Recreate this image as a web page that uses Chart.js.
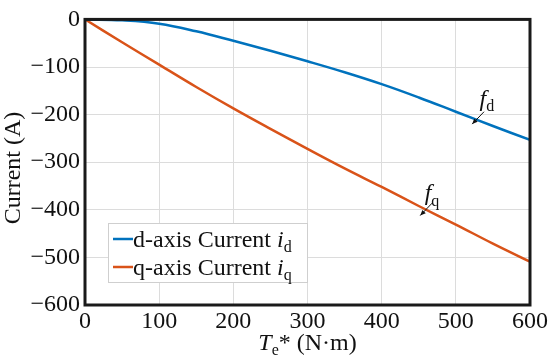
<!DOCTYPE html>
<html>
<head>
<meta charset="utf-8">
<script src="https://cdn.jsdelivr.net/npm/chart.js@4.4.1/dist/chart.umd.min.js"></script>
<style>
  html, body { margin: 0; padding: 0; background: #fff; }
  #wrap { width: 550px; height: 361px; }
</style>
</head>
<body>
<div id="wrap"><canvas id="current-chart" width="550" height="361"></canvas></div>
<script>
// torque reference values (N·m)
const torque = [0, 50, 100, 150, 200, 250, 300, 350, 400, 450, 500, 550, 600]
// currents (A)
const idCurrent = [0, -2, -9, -25, -45, -66, -88, -111, -136, -164, -194, -224, -253]
const iqCurrent = [0, -48, -95, -142, -187, -230, -272, -313, -352, -392, -431, -471, -509]

const xTicks = [0, 100, 200, 300, 400, 500, 600]
const yTicks = [-600, -500, -400, -300, -200, -100, 0]

const seriesNames = [
    { text: "d-axis Current ", sym: "i", sub: "d", color: "#0072BD" },
    { text: "q-axis Current ", sym: "i", sub: "q", color: "#D95319" }
]

// label positions for the f_d / f_q notes, in data units
const notes = [
    { sub: "d", at: [532, -182], arrow: [[538, -194], [522, -220]] },
    { sub: "q", at: [458, -380], arrow: [[468, -386], [452, -412]] }
]

const serif = '"Liberation Serif", "Times New Roman", serif'
const fontSize = 24

function toPoints(xs, ys) {
    return xs.map((x, i) => ({ x: x, y: ys[i] }))
}

// draws plain text + italic symbol + small subscript, returns end x
function drawSubText(ctx, x, y, plain, sym, sub, size) {
    ctx.font = `${size}px ${serif}`
    ctx.fillText(plain, x, y)
    x += ctx.measureText(plain).width
    ctx.font = `italic ${size}px ${serif}`
    ctx.fillText(sym, x, y)
    x += ctx.measureText(sym).width
    ctx.font = `${Math.round(size * 0.65)}px ${serif}`
    ctx.fillText(sub, x, y + size * 0.22)
    return x + ctx.measureText(sub).width
}

const decorations = {
    id: "decorations",
    afterDraw(chart) {
        const ctx = chart.ctx
        const area = chart.chartArea
        const xs = chart.scales.x
        const ys = chart.scales.y
        ctx.save()

        // frame
        ctx.strokeStyle = "#1a1a1a"
        ctx.lineWidth = 3
        ctx.strokeRect(area.left, area.top, area.right - area.left, area.bottom - area.top)

        // legend
        const lx = area.left + 23, ly = area.bottom - 82
        ctx.fillStyle = "#fff"
        ctx.fillRect(lx, ly, 199, 59)
        ctx.strokeStyle = "#cfcfcf"
        ctx.lineWidth = 1
        ctx.strokeRect(lx + 0.5, ly + 0.5, 199, 59)
        ctx.textBaseline = "alphabetic"
        ctx.textAlign = "left"
        seriesNames.forEach((s, i) => {
            const rowY = ly + 16 + i * 28
            ctx.strokeStyle = s.color
            ctx.lineWidth = 2.5
            ctx.beginPath()
            ctx.moveTo(lx + 5, rowY)
            ctx.lineTo(lx + 25, rowY)
            ctx.stroke()
            ctx.fillStyle = "#111"
            drawSubText(ctx, lx + 25, rowY + 8, s.text, s.sym, s.sub, fontSize)
        })

        // f_d / f_q notes
        notes.forEach(n => {
            const px = xs.getPixelForValue(n.at[0])
            const py = ys.getPixelForValue(n.at[1])
            ctx.fillStyle = "#111"
            drawSubText(ctx, px, py, "", "f", n.sub, fontSize)
            const a0x = xs.getPixelForValue(n.arrow[0][0]), a0y = ys.getPixelForValue(n.arrow[0][1])
            const a1x = xs.getPixelForValue(n.arrow[1][0]), a1y = ys.getPixelForValue(n.arrow[1][1])
            ctx.strokeStyle = "#111"
            ctx.lineWidth = 1
            ctx.beginPath()
            ctx.moveTo(a0x, a0y)
            ctx.lineTo(a1x, a1y)
            ctx.stroke()
            const ang = Math.atan2(a1y - a0y, a1x - a0x)
            ctx.beginPath()
            ctx.moveTo(a1x, a1y)
            ctx.lineTo(a1x - 6 * Math.cos(ang - 0.4), a1y - 6 * Math.sin(ang - 0.4))
            ctx.lineTo(a1x - 6 * Math.cos(ang + 0.4), a1y - 6 * Math.sin(ang + 0.4))
            ctx.closePath()
            ctx.fill()
        })

        // x axis title: T_e* (N·m)
        const subSize = Math.round(fontSize * 0.65)
        ctx.font = `italic ${fontSize}px ${serif}`
        const tW = ctx.measureText("T").width
        ctx.font = `${subSize}px ${serif}`
        const eW = ctx.measureText("e").width
        ctx.font = `${fontSize}px ${serif}`
        const restW = ctx.measureText("* (N\u00b7m)").width
        let tx = (area.left + area.right) / 2 - (tW + eW + restW) / 2
        const ty = 350
        ctx.font = `italic ${fontSize}px ${serif}`
        ctx.fillText("T", tx, ty)
        tx += tW
        ctx.font = `${subSize}px ${serif}`
        ctx.fillText("e", tx, ty + 5)
        tx += eW
        ctx.font = `${fontSize}px ${serif}`
        ctx.fillText("* (N\u00b7m)", tx, ty)

        // y axis title
        ctx.translate(20, 168)
        ctx.rotate(-Math.PI / 2)
        ctx.textAlign = "center"
        ctx.fillText("Current (A)", 0, 0)

        ctx.restore()
    }
}

const canvas = document.getElementById("current-chart")
new Chart(canvas.getContext("2d"), {
    type: "line",
    data: {
        datasets: [{
            label: "d-axis Current id",
            data: toPoints(torque, idCurrent),
            borderColor: seriesNames[0].color,
            borderWidth: 2.5,
            pointRadius: 0,
            tension: 0.4,
            fill: false
        }, {
            label: "q-axis Current iq",
            data: toPoints(torque, iqCurrent),
            borderColor: seriesNames[1].color,
            borderWidth: 2.5,
            pointRadius: 0,
            tension: 0.4,
            fill: false
        }]
    },
    options: {
        responsive: false,
        animation: false,
        layout: { padding: { left: 0, right: 20, top: 11, bottom: 0 } },
        plugins: {
            legend: { display: false },
            tooltip: { enabled: false }
        },
        scales: {
            x: {
                type: "linear",
                min: 0, max: 600,
                afterBuildTicks: (scale) => { scale.ticks = xTicks.map(v => ({ value: v })) },
                afterFit: (scale) => { scale.height = 56 },
                grid: { color: "#dcdcdc", lineWidth: 1, drawTicks: false },
                border: { display: false },
                ticks: { color: "#111", padding: 2, font: { family: serif, size: fontSize } }
            },
            y: {
                type: "linear",
                min: -600, max: 0,
                afterBuildTicks: (scale) => { scale.ticks = yTicks.map(v => ({ value: v })) },
                afterFit: (scale) => { scale.width = 85 },
                grid: { color: "#dcdcdc", lineWidth: 1, drawTicks: false },
                border: { display: false },
                ticks: {
                    color: "#111", padding: 5, font: { family: serif, size: fontSize },
                    callback: (v) => String(v).replace("-", "\u2212")
                }
            }
        }
    },
    plugins: [decorations]
})
</script>
</body>
</html>
